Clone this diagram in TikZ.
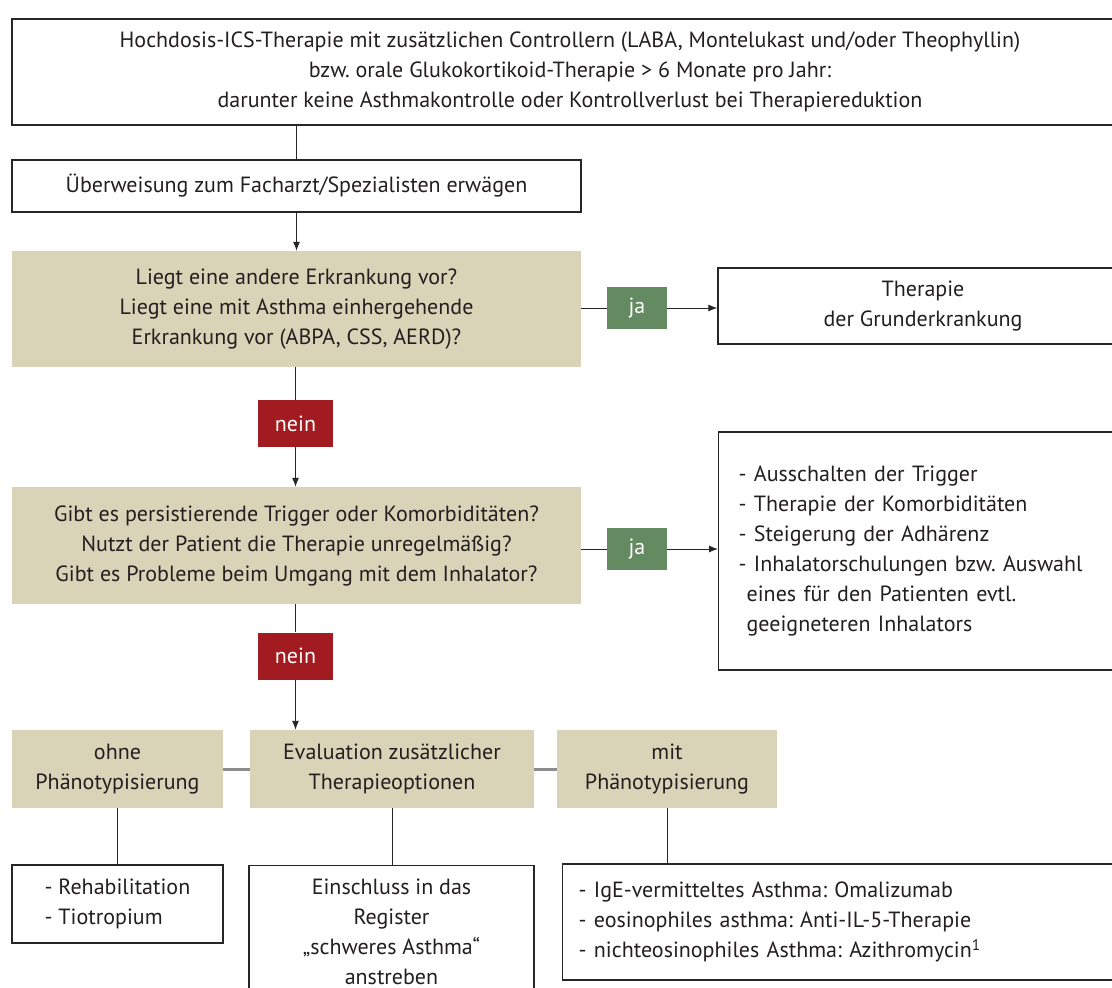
\documentclass[tikz,border=0pt]{standalone}
\usepackage{fontspec}
\setmainfont{PT Sans}
\usepackage{xcolor}
\usetikzlibrary{arrows.meta, positioning}
\frenchspacing

\definecolor{tan}{HTML}{D9D4B7}
\definecolor{jagreen}{HTML}{648A61}
\definecolor{neinred}{HTML}{A11B20}
\definecolor{ink}{HTML}{231F20}

\tikzset{
  base/.style={inner sep=0pt, align=center, text=ink,
    font=\fontsize{22}{30}\selectfont},
  whitebox/.style={base, draw=black!85, line width=1.3pt, fill=white},
  tanbox/.style={base, fill=tan},
  janode/.style={base, fill=jagreen, text=white, minimum width=60pt, minimum height=42pt},
  neinnode/.style={base, fill=neinred, text=white, minimum width=75pt, minimum height=47pt},
  link/.style={black!85, line width=1pt},
  arrow/.style={link, -{Latex[length=9pt,width=7pt]}},
  sidelink/.style={black!45, line width=3pt},
}

\begin{document}
\begin{tikzpicture}[x=1pt, y=-1pt]
  \useasboundingbox (0,0) rectangle (1112,988);
  \fill[white] (0,0) rectangle (1112,988);
  \clip (0,0) rectangle (1112,988);

  % Nodes
  \node[whitebox, minimum width=1116pt, minimum height=106pt] (start) at (570,72)
    {Hochdosis-ICS-Therapie mit zusätzlichen Controllern (LABA, Montelukast und/oder Theophyllin)\\
     bzw. orale Glukokortikoid-Therapie > 6 Monate pro Jahr:\\
     darunter keine Asthmakontrolle oder Kontrollverlust bei Therapiereduktion};
  \node[whitebox, minimum width=569pt, minimum height=52pt] (refer) at (296.5,186)
    {Überweisung zum Facharzt/Spezialisten erwägen};
  \node[tanbox, minimum width=569pt, minimum height=116pt] (other) at (296.5,309)
    {Liegt eine andere Erkrankung vor?\\
     Liegt eine mit Asthma einhergehende\\
     Erkrankung vor (ABPA, CSS, AERD)?};
  \node[janode] (ja1) at (637,308) {ja};
  \node[whitebox, minimum width=410pt, minimum height=76pt] (basic) at (923,306)
    {Therapie\\ der Grunderkrankung};
  \node[neinnode] (nein1) at (295.5,423.5) {nein};
  \node[tanbox, minimum width=569pt, minimum height=117pt] (trigger) at (296.5,545.5)
    {Gibt es persistierende Trigger oder Komorbiditäten?\\
     Nutzt der Patient die Therapie unregelmäßig?\\
     Gibt es Probleme beim Umgang mit dem Inhalator?};
  \node[janode] (ja2) at (637,549) {ja};
  \node[whitebox, anchor=west, align=left, text width=440pt, inner xsep=20pt,
        minimum height=238pt] (measures) at (718,551)
    {- Ausschalten der Trigger\\
     - Therapie der Komorbiditäten\\
     - Steigerung der Adhärenz\\
     - Inhalatorschulungen bzw. Auswahl\\
     \hspace*{8pt}eines für den Patienten evtl.\\
     \hspace*{8pt}geeigneteren Inhalators};
  \node[neinnode] (nein2) at (295.5,656) {nein};
  \node[tanbox, minimum width=211pt, minimum height=78pt] (without) at (117.5,769)
    {ohne\\ Phänotypisierung};
  \node[tanbox, minimum width=284pt, minimum height=78pt] (eval) at (392,769)
    {Evaluation zusätzlicher\\ Therapieoptionen};
  \node[tanbox, minimum width=220pt, minimum height=78pt] (with) at (667,769)
    {mit\\ Phänotypisierung};
  \node[whitebox, align=left, minimum width=211pt, minimum height=78pt] (rehab) at (117.5,904)
    {- Rehabilitation\\ - Tiotropium};
  \node[whitebox, minimum width=285pt, minimum height=133pt] (register) at (391.5,932)
    {Einschluss in das\\ Register\\ „schweres Asthma“\\ anstreben};
  \node[whitebox, anchor=west, align=left, text width=534pt, inner xsep=16pt,
        minimum height=116pt] (drugs) at (562,922)
    {- IgE-vermitteltes Asthma: Omalizumab\\
     - eosinophiles asthma: Anti-IL-5-Therapie\\
     - nichteosinophiles Asthma: Azithromycin\textsuperscript{1}};

  % Connections
  \draw[link] (start.south -| refer) -- (refer);
  \draw[arrow] (refer) -- (other);
  \draw[link] (other.east |- ja1) -- (ja1);
  \draw[arrow] (ja1) -- (ja1 -| basic.west);
  \draw[link] (other.south -| nein1) -- (nein1);
  \draw[arrow] (nein1) -- (nein1 |- trigger.north);
  \draw[link] (trigger.east |- ja2) -- (ja2);
  \draw[arrow] (ja2) -- (ja2 -| measures.west);
  \draw[link] (trigger.south -| nein2) -- (nein2);
  \draw[arrow] (nein2) -- (nein2 |- eval.north);
  \draw[sidelink] (without) -- (eval);
  \draw[sidelink] (eval) -- (with);
  \draw[link] (without) -- (rehab);
  \draw[link] (eval) -- (register.north -| eval);
  \draw[link] (with) -- (with |- drugs.north);
\end{tikzpicture}
\end{document}
